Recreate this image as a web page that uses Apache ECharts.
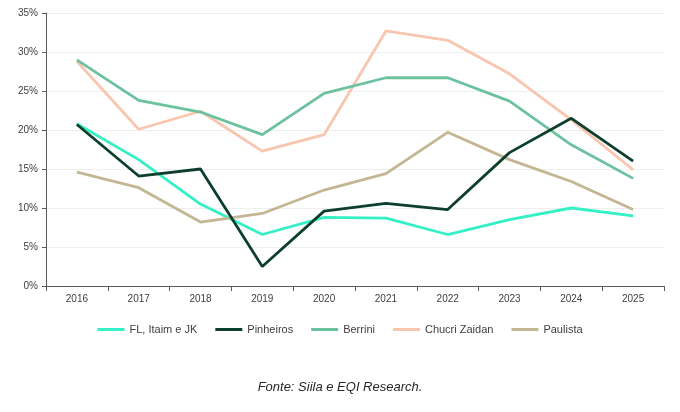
<!DOCTYPE html>
<html><head><meta charset="utf-8">
<script src="https://cdn.jsdelivr.net/npm/echarts@6/dist/echarts.min.js"></script>
<style>html,body{margin:0;padding:0;background:#fff}#c{width:680px;height:412px}</style>
</head><body><div id="c"></div>
<script>
const years = ['2016','2017','2018','2019','2020','2021','2022','2023','2024','2025'];
const flItaimJK = [20.8, 16.2, 10.5, 6.6, 8.8, 8.7, 6.6, 8.5, 10.0, 9.0];
const pinheiros = [20.7, 14.1, 15.0, 2.5, 9.6, 10.6, 9.8, 17.1, 21.5, 16.0];
const berrini = [29.0, 23.8, 22.3, 19.4, 24.7, 26.7, 26.7, 23.7, 18.1, 13.8];
const chucriZaidan = [28.8, 20.1, 22.4, 17.3, 19.4, 32.7, 31.5, 27.2, 21.3, 14.9];
const paulista = [14.6, 12.6, 8.2, 9.3, 12.3, 14.4, 19.7, 16.2, 13.4, 9.8];
const seriesNames = ['FL, Itaim e JK', 'Pinheiros', 'Berrini', 'Chucri Zaidan', 'Paulista'];
const colors = ['#35F0C6', '#0E3F2C', '#6CC19E', '#F8C6AE', '#C3B692'];
const seriesData = [flItaimJK, pinheiros, berrini, chucriZaidan, paulista];

const chart = echarts.init(document.getElementById('c'));
chart.setOption({
  animation: false,
  textStyle: { fontFamily: 'Liberation Sans, Arial, sans-serif' },
  grid: { left: 46, right: 16, top: 13, bottom: 126 },
  legend: {
    data: seriesNames,
    bottom: 72,
    left: 'center',
    itemWidth: 27,
    itemHeight: 3,
    itemGap: 18,
    icon: 'rect',
    textStyle: { fontSize: 11, color: '#404040' }
  },
  xAxis: {
    type: 'category',
    data: years,
    boundaryGap: true,
    axisLine: { lineStyle: { color: '#595959', width: 1 } },
    axisTick: { show: true, alignWithLabel: false, length: 5, lineStyle: { color: '#595959' } },
    axisLabel: { fontSize: 10, color: '#404040', margin: 8 }
  },
  yAxis: {
    type: 'value',
    min: 0, max: 35, interval: 5,
    axisLine: { show: true, lineStyle: { color: '#595959', width: 1 } },
    axisTick: { show: true, length: 4, lineStyle: { color: '#595959' } },
    axisLabel: { fontSize: 10, color: '#404040', formatter: '{value}%', margin: 8 },
    splitLine: { lineStyle: { color: '#EEEEEE', width: 1 } }
  },
  series: seriesData.map((d, i) => ({
    name: seriesNames[i],
    type: 'line',
    data: d,
    symbol: 'none',
    color: colors[i],
    lineStyle: { width: 2.8, color: colors[i] },
    z: [3, 6, 4, 2, 5][i]
  })),
  graphic: [{
    type: 'text',
    left: 'center',
    top: 381,
    style: { text: 'Fonte: Siila e EQI Research.', font: 'italic 13px "Liberation Sans", Arial, sans-serif', fill: '#262626' }
  }]
});
</script></body></html>
